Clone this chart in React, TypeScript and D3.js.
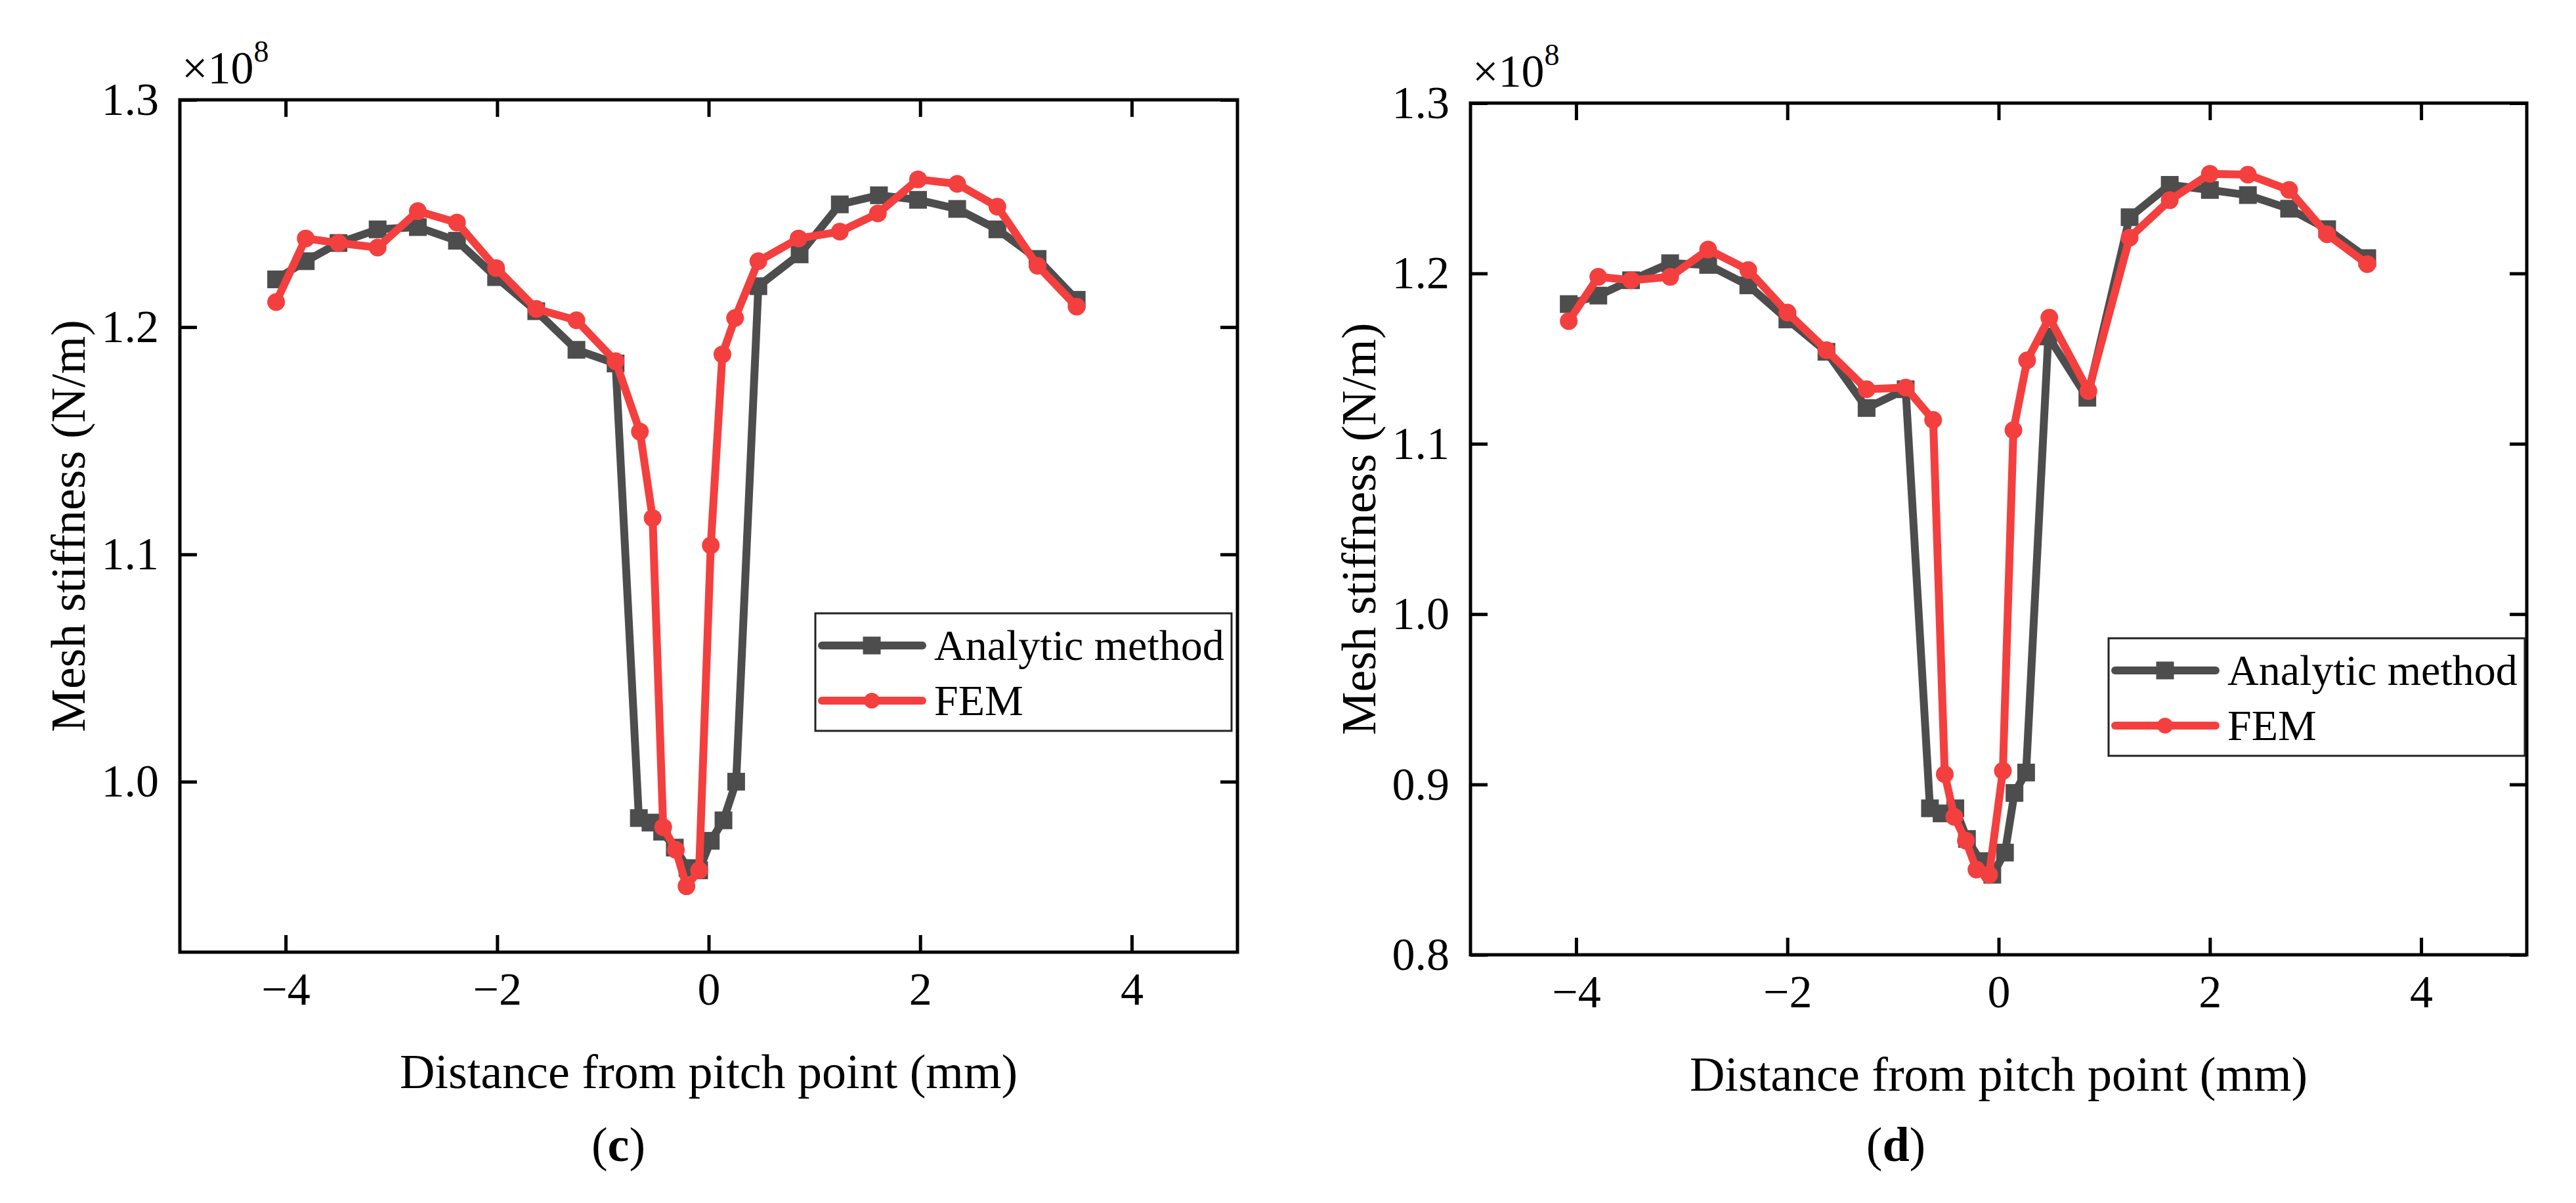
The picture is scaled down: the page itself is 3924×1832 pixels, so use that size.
import * as d3 from 'd3';
import * as React from 'react';

// tick values shared by both panels
const xTicks = [-4, -2, 0, 2, 4];
const yTicksC = [1.0, 1.1, 1.2, 1.3];
const yTicksD = [0.8, 0.9, 1.0, 1.1, 1.2, 1.3];
const seriesNames = ['Analytic method', 'FEM'];
const panelLabels = ['c', 'd'];

// panel (c)
const xAnalyticC = [-4.09, -3.81, -3.5, -3.13, -2.75, -2.38, -2.01, -1.63, -1.25, -0.88, -0.66, -0.55, -0.44, -0.32, -0.2, -0.09, 0.02, 0.14, 0.26, 0.47, 0.86, 1.24, 1.61, 1.98, 2.35, 2.73, 3.11, 3.48];
const yAnalyticC = [1.221, 1.229, 1.237, 1.243, 1.244, 1.238, 1.222, 1.207, 1.19, 1.184, 0.984, 0.982, 0.978, 0.971, 0.962, 0.961, 0.974, 0.983, 1.0, 1.218, 1.232, 1.254, 1.258, 1.256, 1.252, 1.243, 1.23, 1.212];
const xFemC = [-4.09, -3.81, -3.5, -3.13, -2.75, -2.38, -2.01, -1.63, -1.25, -0.88, -0.65, -0.53, -0.43, -0.31, -0.21, -0.09, 0.02, 0.13, 0.25, 0.47, 0.85, 1.24, 1.6, 1.98, 2.35, 2.73, 3.11, 3.48];
const yFemC = [1.211, 1.239, 1.237, 1.235, 1.251, 1.246, 1.226, 1.208, 1.203, 1.185, 1.154, 1.116, 0.98, 0.97, 0.954, 0.961, 1.104, 1.188, 1.204, 1.229, 1.239, 1.242, 1.25, 1.265, 1.263, 1.253, 1.227, 1.209];

// panel (d)
const xAnalyticD = [-4.07, -3.79, -3.48, -3.11, -2.75, -2.37, -2.0, -1.63, -1.25, -0.88, -0.65, -0.54, -0.41, -0.3, -0.17, -0.06, 0.06, 0.15, 0.26, 0.47, 0.84, 1.24, 1.62, 2.0, 2.36, 2.75, 3.11, 3.49];
const yAnalyticD = [1.182, 1.187, 1.196, 1.206, 1.205, 1.193, 1.173, 1.154, 1.121, 1.132, 0.886, 0.883, 0.886, 0.868, 0.855, 0.847, 0.86, 0.895, 0.907, 1.163, 1.127, 1.233, 1.252, 1.249, 1.246, 1.238, 1.226, 1.209];
const xFemD = [-4.07, -3.79, -3.48, -3.11, -2.75, -2.37, -2.0, -1.63, -1.25, -0.88, -0.62, -0.51, -0.42, -0.31, -0.21, -0.09, 0.04, 0.14, 0.27, 0.48, 0.85, 1.24, 1.62, 2.0, 2.36, 2.75, 3.11, 3.49];
const yFemD = [1.172, 1.198, 1.196, 1.198, 1.214, 1.202, 1.177, 1.155, 1.132, 1.133, 1.114, 0.906, 0.881, 0.867, 0.85, 0.847, 0.908, 1.108, 1.149, 1.174, 1.131, 1.221, 1.243, 1.2585, 1.258, 1.249, 1.223, 1.2055];

const W = 3924;
const H = 1832;
const FONT = '"Liberation Serif", "Times New Roman", serif';
const GREY = '#4d4d4d';
const RED = '#f43f3f';

const panels = [
  {
    label: panelLabels[0],
    left: 274, right: 1885, top: 152, bottom: 1450,
    yDomain: [0.925, 1.3], yTicks: yTicksC,
    analytic: d3.zip(xAnalyticC, yAnalyticC),
    fem: d3.zip(xFemC, yFemC),
    legend: { x: 1242, y: 934, w: 634, h: 179 },
    labelX: 942,
  },
  {
    label: panelLabels[1],
    left: 2240, right: 3849, top: 157, bottom: 1454,
    yDomain: [0.8, 1.3], yTicks: yTicksD,
    analytic: d3.zip(xAnalyticD, yAnalyticD),
    fem: d3.zip(xFemD, yFemD),
    legend: { x: 3212, y: 972, w: 634, h: 179 },
    labelX: 2888,
  },
];

const styleAxis = (sel) => {
  sel.attr('font-family', FONT).attr('font-size', 70);
  sel.select('.domain').remove();
  sel.selectAll('.tick line').attr('stroke', '#000').attr('stroke-width', 5);
  sel.selectAll('.tick text').attr('fill', '#000');
};

const drawPanel = (svg, p) => {
  const g = svg.append('g');
  const x = d3.scaleLinear().domain([-5, 5]).range([p.left, p.right]);
  const y = d3.scaleLinear().domain(p.yDomain).range([p.bottom, p.top]);
  const tick = -26;

  g.append('g')
    .attr('transform', `translate(0,${p.bottom})`)
    .call(d3.axisBottom(x).tickValues(xTicks).tickSizeInner(tick).tickSizeOuter(0).tickPadding(30).tickFormat(d3.format('d')))
    .call(styleAxis);
  g.append('g')
    .attr('transform', `translate(0,${p.top})`)
    .call(d3.axisTop(x).tickValues(xTicks).tickSizeInner(tick).tickSizeOuter(0).tickFormat(() => ''))
    .call(styleAxis);
  g.append('g')
    .attr('transform', `translate(${p.left},0)`)
    .call(d3.axisLeft(y).tickValues(p.yTicks).tickSizeInner(tick).tickSizeOuter(0).tickPadding(32).tickFormat(d3.format('.1f')))
    .call(styleAxis);
  g.append('g')
    .attr('transform', `translate(${p.right},0)`)
    .call(d3.axisRight(y).tickValues(p.yTicks).tickSizeInner(tick).tickSizeOuter(0).tickFormat(() => ''))
    .call(styleAxis);

  g.append('rect')
    .attr('x', p.left)
    .attr('y', p.top)
    .attr('width', p.right - p.left)
    .attr('height', p.bottom - p.top)
    .attr('fill', 'none')
    .attr('stroke', '#000')
    .attr('stroke-width', 5);

  // multiplier
  const mult = g.append('text').attr('x', p.left + 3).attr('y', p.top - 25).attr('font-family', FONT).attr('font-size', 70).text('×10');
  mult.append('tspan').attr('dy', -33).attr('font-size', 46).text('8');

  // axis titles
  g.append('text')
    .attr('x', (p.left + p.right) / 2)
    .attr('y', p.bottom + 207)
    .attr('text-anchor', 'middle')
    .attr('font-family', FONT)
    .attr('font-size', 74)
    .text('Distance from pitch point (mm)');
  g.append('text')
    .attr('transform', `translate(${p.left - 171},${(p.top + p.bottom) / 2}) rotate(-90)`)
    .attr('dy', '0.35em')
    .attr('text-anchor', 'middle')
    .attr('font-family', FONT)
    .attr('font-size', 74)
    .text('Mesh stiffness (N/m)');

  const line = d3.line().x((d) => x(d[0])).y((d) => y(d[1]));
  const ms = 27;

  // analytic series
  g.append('path').attr('d', line(p.analytic)).attr('fill', 'none').attr('stroke', GREY).attr('stroke-width', 12).attr('stroke-linejoin', 'round');
  g.selectAll('.sq')
    .data(p.analytic)
    .enter()
    .append('rect')
    .attr('x', (d) => x(d[0]) - ms / 2)
    .attr('y', (d) => y(d[1]) - ms / 2)
    .attr('width', ms)
    .attr('height', ms)
    .attr('fill', GREY);

  // FEM series
  g.append('path').attr('d', line(p.fem)).attr('fill', 'none').attr('stroke', RED).attr('stroke-width', 12).attr('stroke-linejoin', 'round');
  g.selectAll('.ci')
    .data(p.fem)
    .enter()
    .append('circle')
    .attr('cx', (d) => x(d[0]))
    .attr('cy', (d) => y(d[1]))
    .attr('r', ms / 2)
    .attr('fill', RED);

  // legend
  const L = p.legend;
  g.append('rect').attr('x', L.x).attr('y', L.y).attr('width', L.w).attr('height', L.h).attr('fill', '#fff').attr('stroke', '#222').attr('stroke-width', 3);
  seriesNames.forEach((name, i) => {
    const ry = L.y + 49 + i * 84;
    const color = i === 0 ? GREY : RED;
    g.append('line').attr('x1', L.x + 10).attr('x2', L.x + 163).attr('y1', ry).attr('y2', ry).attr('stroke', color).attr('stroke-width', 12).attr('stroke-linecap', 'round');
    if (i === 0) {
      g.append('rect').attr('x', L.x + 86 - ms / 2).attr('y', ry - ms / 2).attr('width', ms).attr('height', ms).attr('fill', color);
    } else {
      g.append('circle').attr('cx', L.x + 86).attr('cy', ry).attr('r', 12).attr('fill', color);
    }
    g.append('text').attr('x', L.x + 181).attr('y', ry + 22).attr('font-family', FONT).attr('font-size', 66).text(name);
  });

  // panel label
  const lab = g.append('text').attr('x', p.labelX).attr('y', 1768).attr('text-anchor', 'middle').attr('font-family', FONT).attr('font-size', 74);
  lab.append('tspan').text('(');
  lab.append('tspan').attr('font-weight', 'bold').text(p.label);
  lab.append('tspan').text(')');
};

const App = () => {
  const ref = React.useRef<SVGSVGElement | null>(null);

  React.useEffect(() => {
    if (!ref.current) {
      return;
    }
    const svg = d3.select(ref.current);
    svg.selectAll('*').remove();
    svg.append('rect').attr('width', W).attr('height', H).attr('fill', '#fff');
    panels.forEach((p) => drawPanel(svg, p));
  }, []);

  return <svg ref={ref} width={W} height={H} style={{ position: 'absolute', left: 0, top: 0, display: 'block' }} />;
};

export default App;
